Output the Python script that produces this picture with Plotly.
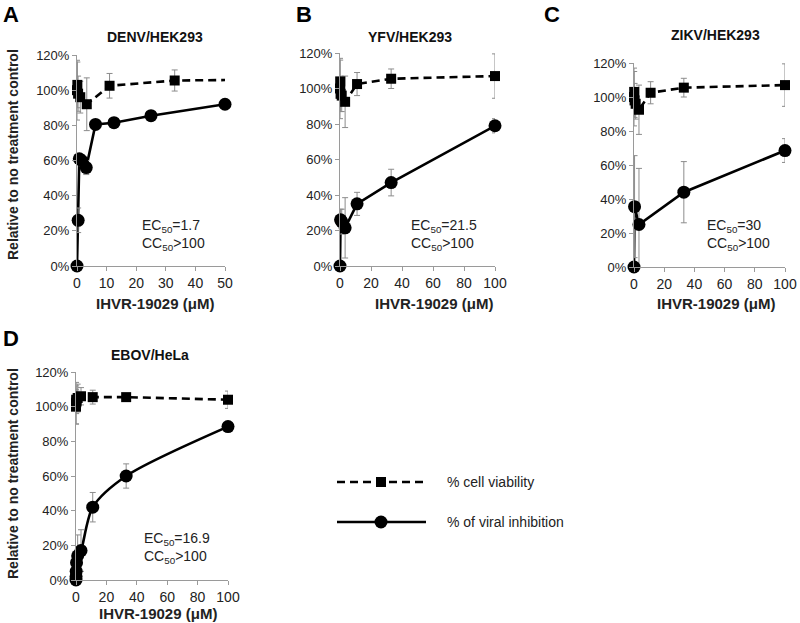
import plotly.graph_objects as go

W, H = 800, 623

# ---------------- data ----------------
denv_viab_x = [0, 0.12, 0.37, 1.1, 3.3, 11, 33, 100]
denv_viab_y = [100, 103, 98, 96, 92, 102.5, 105.5, 106.5]
denv_viab_err = [17, 13, 10, 9, 15, 7, 6, 12]
denv_inh_x = [0, 0.39, 0.78, 1.56, 3.125, 6.25, 12.5, 25, 50]
denv_inh_y = [0, 26, 61, 60, 56, 80.5, 81.5, 85.5, 92]
denv_inh_err = [0, 7, 3, 3, 4, 1, 1, 1, 1]

yfv_viab_x = [0, 0.12, 0.37, 1.1, 3.3, 11, 33, 100]
yfv_viab_y = [100, 104, 97, 96, 92.5, 102.5, 105.5, 107]
yfv_viab_err = [17, 12, 10, 9, 14.5, 6.5, 5.5, 12.5]
yfv_inh_x = [0, 0.37, 1.1, 3.3, 11, 33, 100]
yfv_inh_y = [0, 26, 25, 21.5, 35, 47, 79]
yfv_inh_err = [0, 6, 7, 17, 6.5, 7.5, 4]

zikv_viab_x = [0, 0.12, 0.37, 1.1, 3.3, 11, 33, 100]
zikv_viab_y = [100, 103, 98, 96, 92.5, 102.5, 105.5, 107]
zikv_viab_err = [17, 12, 10, 9, 14.5, 6.5, 5.5, 12.5]
zikv_inh_x = [0, 0.37, 3.3, 33, 100]
zikv_inh_y = [0, 35.5, 25, 44, 68.5]
zikv_inh_err = [0, 30, 33, 18, 7]

ebov_viab_x = [0, 0.04, 0.12, 0.37, 1.1, 3.3, 11, 33, 100]
ebov_viab_y = [100, 102, 104, 103, 105, 106, 105.5, 105.5, 104]
ebov_viab_err = [10, 12, 8, 6, 8, 5, 4, 2, 5]
ebov_inh_x = [0, 0.04, 0.12, 0.37, 1.1, 3.3, 11, 33, 100]
ebov_inh_y = [0, 2, 5, 10, 14, 17, 42, 60, 88.5]
ebov_inh_err = [0, 3, 5, 8, 12, 12, 8.5, 7, 1.5]

panel_titles = ["DENV/HEK293", "YFV/HEK293", "ZIKV/HEK293", "EBOV/HeLa"]
panel_letters = ["A", "B", "C", "D"]
ec50_labels = ["1.7", "21.5", "30", "16.9"]
cc50_label = ">100"
x_title = "IHVR-19029 (μM)"
y_title = "Relative to no treatment control"
legend_labels = ["% cell viability", "% of viral inhibition"]
y_ticks = [0, 20, 40, 60, 80, 100, 120]
y_ticktext = ["%d%%" % v for v in y_ticks]

# ---------------- layout geometry (pixels) ----------------
FONT = "Liberation Sans, Arial, sans-serif"
panels = [
    dict(px=(77, 225), py=(266, 55), xmax=50, dtick=10,
         viab=(denv_viab_x, denv_viab_y, denv_viab_err),
         inh=(denv_inh_x, denv_inh_y, denv_inh_err), spline=False),
    dict(px=(340, 495), py=(266, 53), xmax=100, dtick=20,
         viab=(yfv_viab_x, yfv_viab_y, yfv_viab_err),
         inh=(yfv_inh_x, yfv_inh_y, yfv_inh_err), spline=False),
    dict(px=(634, 785), py=(267, 63), xmax=100, dtick=20,
         viab=(zikv_viab_x, zikv_viab_y, zikv_viab_err),
         inh=(zikv_inh_x, zikv_inh_y, zikv_inh_err), spline=False),
    dict(px=(76, 228), py=(580, 372), xmax=100, dtick=20,
         viab=(ebov_viab_x, ebov_viab_y, ebov_viab_err),
         inh=(ebov_inh_x, ebov_inh_y, ebov_inh_err), spline=True),
]
title_pos = [(155, 37), (410, 37), (715, 35), (150, 355)]
letter_pos = [(11, 14), (304, 14), (552, 14), (11, 338)]
ec_pos = [(140, 235), (409, 235), (705, 235), (142, 548)]
xtitle_pos = [(155, 303), (434, 303), (716, 303), (158, 613)]
ytitle_pos = [(13, 155), None, None, (13, 474)]


def fx(p):
    return p / W


def fy(p):
    return 1 - p / H


fig = go.Figure()
layout = dict(
    width=W, height=H, margin=dict(l=0, r=0, t=0, b=0, autoexpand=False),
    paper_bgcolor="white", plot_bgcolor="white", showlegend=False,
    font=dict(family=FONT, color="#222", size=14),
)
annotations = []
shapes = []

ERR_COLOR = "#8c8c8c"
AX_COLOR = "#9a9a9a"

for i, p in enumerate(panels):
    n = "" if i == 0 else str(i + 1)
    xa, ya = "x" + n, "y" + n
    layout["xaxis" + n] = dict(
        domain=[fx(p["px"][0]), fx(p["px"][1])], anchor=ya, range=[0, p["xmax"]],
        dtick=p["dtick"], tick0=0, showgrid=False, zeroline=False,
        showline=True, linecolor=AX_COLOR, linewidth=1,
        ticks="outside", ticklen=4, tickcolor=AX_COLOR,
        tickfont=dict(family=FONT, size=14, color="#222"), fixedrange=True,
    )
    layout["yaxis" + n] = dict(
        domain=[fy(p["py"][0]), fy(p["py"][1])], anchor=xa, range=[0, 120],
        tickmode="array", tickvals=y_ticks, ticktext=y_ticktext,
        showgrid=False, zeroline=False,
        showline=True, linecolor=AX_COLOR, linewidth=1,
        ticks="outside", ticklen=4, tickcolor=AX_COLOR,
        tickfont=dict(family=FONT, size=13, color="#222"), fixedrange=True,
    )
    xmax = p["xmax"]
    # viability: dashed line + squares
    vx, vy, ve = p["viab"]
    fig.add_trace(go.Scatter(x=vx, y=vy, mode="lines", xaxis=xa, yaxis=ya,
                             line=dict(color="black", width=2.6, dash="8px,5px"),
                             hoverinfo="skip"))
    keep = [k for k in range(len(vx)) if vx[k] <= xmax]
    fig.add_trace(go.Scatter(x=[vx[k] for k in keep], y=[vy[k] for k in keep],
                             mode="markers", xaxis=xa, yaxis=ya, cliponaxis=False,
                             marker=dict(symbol="square", size=10, color="black"),
                             error_y=dict(type="data", array=[ve[k] for k in keep],
                                          color=ERR_COLOR, thickness=1, width=3)))
    # inhibition: solid line + circles
    ix, iy, ie = p["inh"]
    fig.add_trace(go.Scatter(x=ix, y=iy, mode="lines", xaxis=xa, yaxis=ya,
                             line=dict(color="black", width=2.6,
                                       shape="spline" if p["spline"] else "linear",
                                       smoothing=0.8),
                             hoverinfo="skip"))
    fig.add_trace(go.Scatter(x=ix, y=iy, mode="markers", xaxis=xa, yaxis=ya,
                             cliponaxis=False,
                             marker=dict(symbol="circle", size=13, color="black"),
                             error_y=dict(type="data", array=ie,
                                          color=ERR_COLOR, thickness=1, width=3)))

    tx, ty = title_pos[i]
    annotations.append(dict(x=fx(tx), y=fy(ty), xref="paper", yref="paper",
                            text="<b>%s</b>" % panel_titles[i], showarrow=False,
                            font=dict(size=14, color="#111"),
                            xanchor="center", yanchor="middle"))
    lx, ly = letter_pos[i]
    annotations.append(dict(x=fx(lx), y=fy(ly), xref="paper", yref="paper",
                            text="<b>%s</b>" % panel_letters[i], showarrow=False,
                            font=dict(size=22, color="black"),
                            xanchor="center", yanchor="middle"))
    ex, ey = ec_pos[i]
    annotations.append(dict(x=fx(ex), y=fy(ey), xref="paper", yref="paper",
                            text="EC<sub>50</sub>=%s<br>CC<sub>50</sub>%s" % (ec50_labels[i], cc50_label),
                            showarrow=False, align="left",
                            font=dict(size=14, color="#222"),
                            xanchor="left", yanchor="middle"))
    xtx, xty = xtitle_pos[i]
    annotations.append(dict(x=fx(xtx), y=fy(xty), xref="paper", yref="paper",
                            text="<b>%s</b>" % x_title, showarrow=False,
                            font=dict(size=15, color="#222"),
                            xanchor="center", yanchor="middle"))
    if ytitle_pos[i]:
        yx, yy = ytitle_pos[i]
        annotations.append(dict(x=fx(yx), y=fy(yy), xref="paper", yref="paper",
                                text="<b>%s</b>" % y_title, showarrow=False,
                                textangle=-90, font=dict(size=14, color="#222"),
                                xanchor="center", yanchor="middle"))

# ---------------- manual legend ----------------
leg_x0, leg_x1, leg_xm = 337, 426, 381
leg_rows = [(482, "8px,5px", "square"), (522, "solid", "circle")]
for (ly, dash, sym), label in zip(leg_rows, legend_labels):
    shapes.append(dict(type="line", xref="paper", yref="paper",
                       x0=fx(leg_x0), x1=fx(leg_x1), y0=fy(ly), y1=fy(ly),
                       line=dict(color="black", width=2.6, dash=dash)))
    if sym == "square":
        shapes.append(dict(type="rect", xref="paper", yref="paper",
                           x0=fx(leg_xm - 5), x1=fx(leg_xm + 5),
                           y0=fy(ly + 5), y1=fy(ly - 5),
                           fillcolor="black", line=dict(width=0)))
    else:
        shapes.append(dict(type="circle", xref="paper", yref="paper",
                           x0=fx(leg_xm - 6.5), x1=fx(leg_xm + 6.5),
                           y0=fy(ly + 6.5), y1=fy(ly - 6.5),
                           fillcolor="black", line=dict(width=0)))
    annotations.append(dict(x=fx(445), y=fy(ly), xref="paper", yref="paper",
                            text=label, showarrow=False,
                            font=dict(size=14, color="#222"),
                            xanchor="left", yanchor="middle"))

layout["annotations"] = annotations
layout["shapes"] = shapes
fig.update_layout(**layout)
fig.write_html("out.html", config={"displayModeBar": False},
               post_script="document.body.style.margin='0';document.body.style.overflow='hidden';")
